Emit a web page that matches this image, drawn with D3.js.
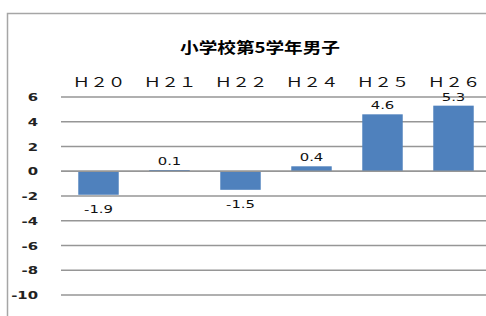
<!DOCTYPE html>
<html>
<head>
<meta charset="UTF-8" />
<title>小学校第5学年男子</title>
<script src="https://cdn.jsdelivr.net/npm/d3@7"></script>
<style>
body{margin:0;background:#fff;}
</style>
</head>
<body>
<div id="chart"></div>
<script>
var w=486,h=316;
var sx=1.35; // the original picture is stretched sideways

var years=['Ｈ２０','Ｈ２１','Ｈ２２','Ｈ２４','Ｈ２５','Ｈ２６'];
var values=[-1.9,0.1,-1.5,0.4,4.6,5.3];
var ticks=[6,4,2,0,-2,-4,-6,-8,-10];

var svg=d3.select('#chart')
          .append('svg')
          .attr('width',w)
          .attr('height',h);

// chart area frame (runs off the right and bottom edges)
svg.append('rect')
   .attr('x',7.5).attr('y',13.5)
   .attr('width',600).attr('height',400)
   .attr('fill','white')
   .attr('stroke','#a6a6a6')
   .attr('stroke-width',1.5);

var x=d3.scaleBand().domain(years).range([63,489]).paddingInner(0.43).paddingOuter(0.215);
var y=d3.scaleLinear().domain([-10,6]).range([295,97]);

svg.append('text')
   .text('小学校第5学年男子')
   .attr('x',260).attr('y',53)
   .attr('text-anchor','middle')
   .attr('font-family','"Noto Sans CJK JP", sans-serif')
   .attr('font-weight','bold')
   .attr('font-size','15px')
   .attr('textLength',160)
   .attr('lengthAdjust','spacingAndGlyphs')
   .attr('fill','#000');

// gridlines
svg.selectAll('line.grid')
   .data(ticks)
   .enter()
   .append('line')
   .attr('class','grid')
   .attr('x1',61).attr('x2',w)
   .attr('y1',function(d){return y(d);})
   .attr('y2',function(d){return y(d);})
   .attr('stroke','#969696')
   .attr('stroke-width',1.5);

svg.selectAll('text.ytick')
   .data(ticks)
   .enter()
   .append('text')
   .attr('class','ytick')
   .text(function(d){return d;})
   .attr('transform',function(d){return 'translate(38,'+(y(d)+4)+') scale('+sx+',1)';})
   .attr('text-anchor','end')
   .attr('font-family','"DejaVu Sans", sans-serif')
   .attr('font-weight','bold')
   .attr('font-size','11px')
   .attr('fill','#222');

svg.selectAll('text.xcat')
   .data(years)
   .enter()
   .append('text')
   .attr('class','xcat')
   .text(function(d){return d;})
   .attr('x',function(d){return x(d)+x.bandwidth()/2-26;})
   .attr('y',87)
   .attr('textLength',53)
   .attr('lengthAdjust','spacingAndGlyphs')
   .attr('font-family','"Noto Sans CJK JP", sans-serif')
   .attr('font-size','12.5px')
   .attr('fill','#111');

svg.selectAll('rect.bar')
   .data(values)
   .enter()
   .append('rect')
   .attr('class','bar')
   .attr('x',function(d,i){return x(years[i]);})
   .attr('y',function(d){return y(Math.max(0,d));})
   .attr('width',x.bandwidth())
   .attr('height',function(d){return Math.abs(y(d)-y(0));})
   .attr('fill','#4f81bd');

// zero line sits over the bars
svg.append('line')
   .attr('x1',61).attr('x2',w)
   .attr('y1',y(0)).attr('y2',y(0))
   .attr('stroke','#969696')
   .attr('stroke-width',1.5);

svg.selectAll('text.val')
   .data(values)
   .enter()
   .append('text')
   .attr('class','val')
   .text(function(d){return d.toFixed(1);})
   .attr('transform',function(d,i){
     var ty=d>=0 ? y(d)-5 : y(d)+18;
     return 'translate('+(x(years[i])+x.bandwidth()/2)+','+ty+') scale('+sx+',1)';
   })
   .attr('text-anchor','middle')
   .attr('font-family','"DejaVu Sans", sans-serif')
   .attr('font-size','11px')
   .attr('fill','#111');
</script>
</body>
</html>
